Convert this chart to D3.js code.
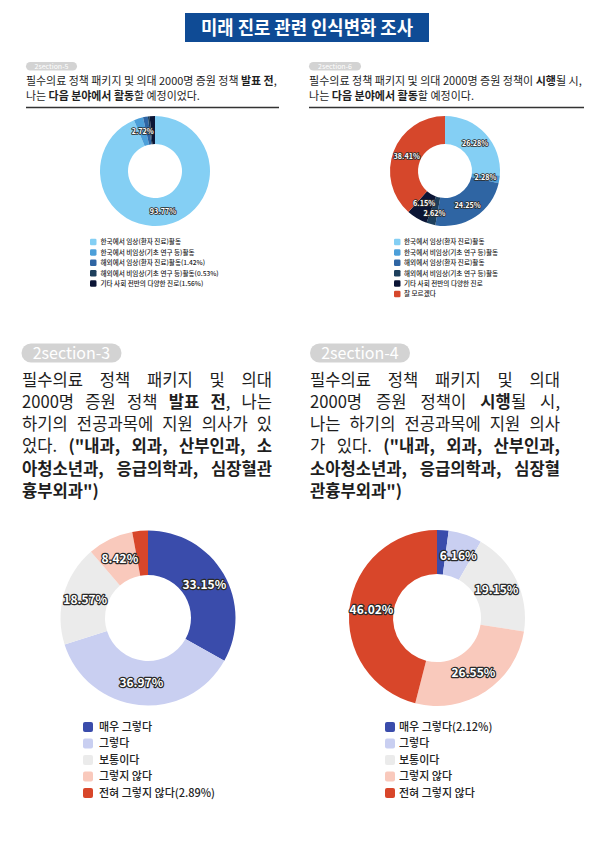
<!DOCTYPE html>
<html><head><meta charset="utf-8">
<script src="https://cdn.jsdelivr.net/npm/d3@7"></script>
<style>
html,body{margin:0;padding:0;background:#fff;}
svg{display:block;}
text{font-family:"Noto Sans CJK KR","Noto Sans",sans-serif;}
</style></head>
<body>
<svg id="c" width="600" height="848"></svg>
<script>
// ---------- DATA ----------
const careerCatsBefore = ["한국에서 임상(환자 진료)활동","한국에서 비임상(기초 연구 등)활동","해외에서 임상(환자 진료)활동(1.42%)","해외에서 비임상(기초 연구 등)활동(0.53%)","기타 사회 전반의 다양한 진로(1.56%)"];
const careerValsBefore = [93.77, 2.72, 1.42, 0.53, 1.56];
const careerCatsAfter = ["한국에서 임상(환자 진료)활동","한국에서 비임상(기초 연구 등)활동","해외에서 임상(환자 진료)활동","해외에서 비임상(기초 연구 등)활동","기타 사회 전반의 다양한 진로","잘 모르겠다"];
const careerValsAfter = [26.28, 2.28, 24.25, 2.62, 6.15, 38.41];
const careerColors = ["#84cff4","#4c9fd9","#2f65a3","#1d3f5c","#0b1535","#d6472b"];

const majorCatsBefore = ["매우 그렇다","그렇다","보통이다","그렇지 않다","전혀 그렇지 않다(2.89%)"];
const majorValsBefore = [33.15, 36.97, 18.57, 8.42, 2.89];
const majorCatsAfter = ["매우 그렇다(2.12%)","그렇다","보통이다","그렇지 않다","전혀 그렇지 않다"];
const majorValsAfter = [2.12, 6.16, 19.15, 26.55, 46.02];
const majorColors = ["#3a4cab","#c9cff1","#ebebeb","#f9c9bc","#d8462a"];

const titleText = "미래 진로 관련 인식변화 조사";

// ---------- DRAW ----------
const svg = d3.select("#c");

// title
svg.append("rect").attr("x",185).attr("y",13).attr("width",244).attr("height",29).attr("fill","#0f4b95");
svg.append("text").attr("x",307).attr("y",34.5).attr("text-anchor","middle")
  .attr("font-size",19).attr("font-weight",700).attr("fill","#fff")
  .attr("textLength",212).attr("lengthAdjust","spacingAndGlyphs").text(titleText);

function pill(x,y,w,h,label,fs){
  svg.append("rect").attr("x",x).attr("y",y).attr("width",w).attr("height",h).attr("rx",h/2).attr("fill","#d3d3d3");
  svg.append("text").attr("x",x+w/2).attr("y",y+h/2+fs*0.36).attr("text-anchor","middle")
    .attr("font-family","Inter, 'Noto Sans', sans-serif")
    .attr("font-size",fs).attr("font-weight",400).attr("fill","#fff").text(label);
}

// rich text line: segments [text,bold]
function richLine(g,x,y,segs,fs){
  const t = g.append("text").attr("x",x).attr("y",y).attr("font-size",fs).attr("fill","#1e1e1e");
  segs.forEach(s=>t.append("tspan").attr("font-weight",s[1]?700:400).text(s[0]));
  return t;
}

// top headers
function topHeader(x0,x1,label,line1,line2){
  pill(x0,62,x1===279?51:52,8.5,label,7);
  const g = svg.append("g");
  const t1 = richLine(g,x0,84.5,line1,11);
  const w = t1.node().getComputedTextLength();
  const fs = 11*(x1-x0-2)/w;
  t1.attr("font-size",fs);
  richLine(g,x0,99.5,line2,fs);
  svg.append("line").attr("x1",x0).attr("x2",x1).attr("y1",107.5).attr("y2",107.5).attr("stroke","#333").attr("stroke-width",1.5);
}
topHeader(26,279,"2section-5",
  [["필수의료 정책 패키지 및 의대 2000명 증원 정책 ",0],["발표 전",1],[",",0]],
  [["나는 ",0],["다음 분야에서 활동",1],["할 예정이었다.",0]]);
topHeader(309,584,"2section-6",
  [["필수의료 정책 패키지 및 의대 2000명 증원 정책이 ",0],["시행",1],["될 시,",0]],
  [["나는 ",0],["다음 분야에서 활동",1],["할 예정이다.",0]]);

// justified paragraph
function paragraph(x0,width,y0,lh,fs,lines){
  lines.forEach((words,i)=>{
    const y = y0+i*lh;
    const g = svg.append("g");
    const nodes = words.map(wd=>richLine(g,0,y,wd,fs));
    const widths = nodes.map(n=>n.node().getComputedTextLength());
    const sum = d3.sum(widths);
    const last = i===lines.length-1;
    const gap = (last||words.length<2) ? fs*0.25 : (width-sum)/(words.length-1);
    let x = x0;
    nodes.forEach((n,j)=>{ n.attr("x",x); x += widths[j]+gap; });
  });
}
const N=0,B=1;
pill(21.5,343.5,100,19,"2section-3",16);
paragraph(22,250,385.5,22.3,16.6,[
  [[["필수의료",N]],[["정책",N]],[["패키지",N]],[["및",N]],[["의대",N]]],
  [[["2000명",N]],[["증원",N]],[["정책",N]],[["발표",B]],[["전",B],[",",N]],[["나는",N]]],
  [[["하기의",N]],[["전공과목에",N]],[["지원",N]],[["의사가",N]],[["있",N]]],
  [[["었다.",N]],[["(\"내과,",B]],[["외과,",B]],[["산부인과,",B]],[["소",B]]],
  [[["아청소년과,",B]],[["응급의학과,",B]],[["심장혈관",B]]],
  [[["흉부외과\")",B]]]
]);
pill(310,343.5,100,19,"2section-4",16);
paragraph(310,250,385.5,22.3,16.6,[
  [[["필수의료",N]],[["정책",N]],[["패키지",N]],[["및",N]],[["의대",N]]],
  [[["2000명",N]],[["증원",N]],[["정책이",N]],[["시행",B],["될",N]],[["시,",N]]],
  [[["나는",N]],[["하기의",N]],[["전공과목에",N]],[["지원",N]],[["의사",N]]],
  [[["가",N]],[["있다.",N]],[["(\"내과,",B]],[["외과,",B]],[["산부인과,",B]]],
  [[["소아청소년과,",B]],[["응급의학과,",B]],[["심장혈",B]]],
  [[["관흉부외과\")",B]]]
]);

// donut
function donut(cx,cy,rOut,rIn,vals,colors,minLabel,lfs,lsw){
  const pie = d3.pie().sort(null).value(d=>d);
  const arcs = pie(vals);
  const arc = d3.arc().innerRadius(rIn).outerRadius(rOut);
  const g = svg.append("g").attr("transform",`translate(${cx},${cy})`);
  g.selectAll("path").data(arcs).join("path").attr("d",arc).attr("fill",(d,i)=>colors[i]);
  // label positions with simple vertical de-collision
  const labs = arcs.filter(d=>d.data>=minLabel).map(d=>{const c=arc.centroid(d);return {d,x:c[0],y:c[1]};});
  const txt = g.selectAll("text").data(labs).join("text")
    .attr("text-anchor","middle").attr("dy","0.36em")
    .attr("font-family","Inter, 'Noto Sans', sans-serif")
    .attr("font-size",lfs).attr("font-weight",700)
    .attr("fill","#fff").attr("stroke","#2a2a2a").attr("stroke-width",lsw)
    .attr("stroke-linejoin","round").attr("paint-order","stroke")
    .text(l=>d3.format(".2f")(l.d.data)+"%");
  txt.each(function(l){ l.w=this.getComputedTextLength(); });
  const h = lfs*1.3;
  for(let it=0;it<10;it++){
    for(let i=0;i<labs.length;i++)for(let j=i+1;j<labs.length;j++){
      const a=labs[i],b=labs[j];
      const ox=(a.w+b.w)/2-Math.abs(a.x-b.x), oy=h-Math.abs(a.y-b.y);
      if(ox>0&&oy>0){ const s=(a.y<b.y?-1:1)*oy/2; a.y+=s; b.y-=s; }
    }
  }
  txt.attr("transform",l=>`translate(${l.x},${l.y})`);
}
donut(155,171,55,27,careerValsBefore,careerColors,2,7.2,1.6);
donut(445,171,55,27,careerValsAfter,careerColors,2,7.2,1.6);
donut(148,618,87.5,43,majorValsBefore,majorColors,3,12,2.4);
donut(437,618,88,44,majorValsAfter,majorColors,3,12,2.4);

// legends
function legend(x,y0,step,sw,fs,tx,cats,colors,weight){
  const g = svg.append("g");
  cats.forEach((c,i)=>{
    const y = y0+i*step;
    g.append("rect").attr("x",x).attr("y",y-sw/2).attr("width",sw).attr("height",sw).attr("rx",sw*0.2).attr("fill",colors[i]);
    g.append("text").attr("x",tx).attr("y",y+fs*0.36).attr("font-size",fs).attr("font-weight",weight).attr("fill","#222").text(c);
  });
}
legend(90,242,10.4,6.5,6.6,100.5,careerCatsBefore,careerColors,500);
legend(394,242,10.4,6.5,6.6,404,careerCatsAfter,careerColors,500);
legend(83,727,16.5,10,11,99,majorCatsBefore,majorColors,500);
legend(385,727,16.5,10,11,399,majorCatsAfter,majorColors,500);
</script>
</body></html>
